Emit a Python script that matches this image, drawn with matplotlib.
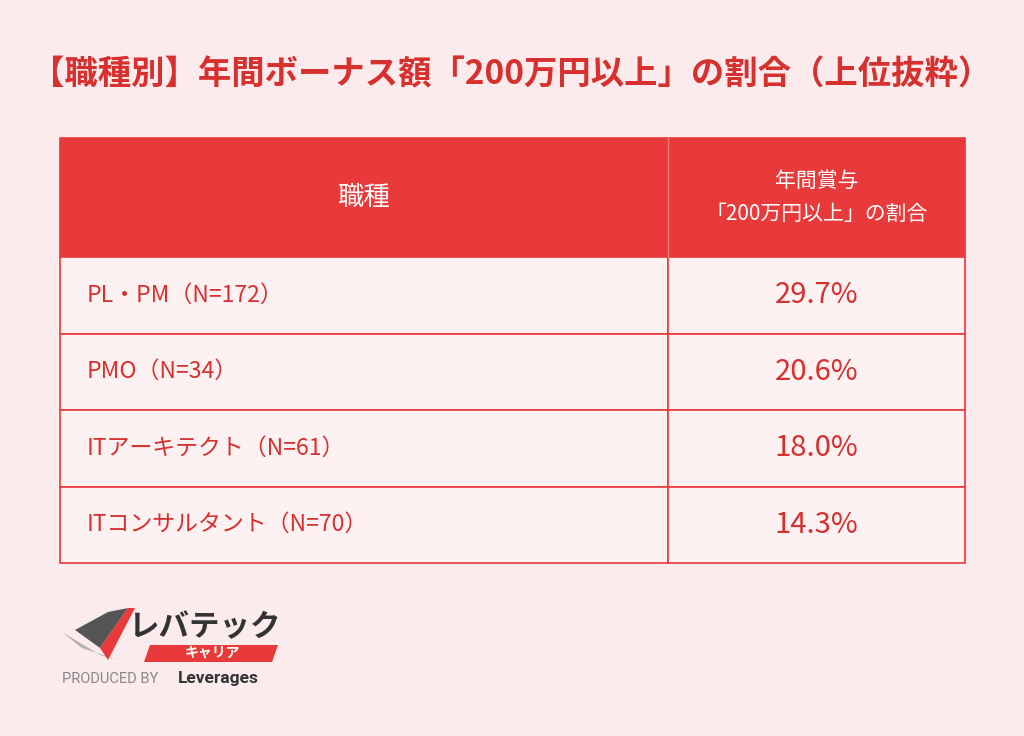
import matplotlib
matplotlib.use("Agg")
import matplotlib.pyplot as plt
from matplotlib.patches import Rectangle, Polygon

title = "【職種別】年間ボーナス額「200万円以上」の割合（上位抜粋）"
col_headers = ["職種", "年間賞与\n「200万円以上」の割合"]
categories = ["PL・PM（N=172）", "PMO（N=34）", "ITアーキテクト（N=61）", "ITコンサルタント（N=70）"]
values = [29.7, 20.6, 18.0, 14.3]

FONT = "Noto Sans CJK JP"
BG = "#FBEBEC"
RED = "#E83A3A"
TXT = "#D6302F"

fig = plt.figure(figsize=(10.24, 7.36), dpi=100, facecolor=BG)
ax = fig.add_axes([0, 0, 1, 1])
ax.set_xlim(0, 1024); ax.set_ylim(736, 0); ax.axis("off")
ax.set_facecolor(BG)

ax.text(511, 75, title, ha="center", va="center", fontsize=24, fontweight="bold",
        color=TXT, family=FONT)

x0, x1, xs = 60, 965, 668
hy0, hy1 = 138, 257
rh = 76.5
ax.add_patch(Rectangle((x0, hy0), x1 - x0, hy1 - hy0, fc=RED, ec=RED, lw=1.2))
ax.plot([xs, xs], [hy0, hy1], color="#F27A7A", lw=1)
ax.text((x0 + xs) / 2, (hy0 + hy1) / 2, col_headers[0], ha="center", va="center",
        fontsize=19, color="white", family=FONT)
ax.text((xs + x1) / 2, (hy0 + hy1) / 2, col_headers[1], ha="center", va="center",
        fontsize=15, color="white", family=FONT, linespacing=1.7)

for i, (c, v) in enumerate(zip(categories, values)):
    y = hy1 + i * rh
    ax.add_patch(Rectangle((x0, y), xs - x0, rh, fc="#FDF1F2", ec=RED, lw=1.2))
    ax.add_patch(Rectangle((xs, y), x1 - xs, rh, fc="#FDF1F2", ec=RED, lw=1.2))
    ax.text(87, y + rh / 2, c, ha="left", va="center", fontsize=16.5, color=TXT, family=FONT)
    ax.text((xs + x1) / 2, y + rh / 2, f"{v:.1f}%", ha="center", va="center",
            fontsize=21, color=TXT, family=FONT)

# logo
ax.add_patch(Polygon([(62, 632), (100, 655), (118, 660), (82, 648)], fc="#B0B0B0", ec="none"))
ax.add_patch(Polygon([(75, 630), (100, 648), (128, 608), (108, 612)], fc="#555555", ec="none"))
ax.add_patch(Polygon([(100, 648), (128, 608), (135, 608), (108, 660)], fc=RED, ec="none"))
ax.text(128, 627, "レバテック", ha="left", va="center", fontsize=22, fontweight="bold",
        color="#333333", family=FONT, style="italic")
ax.add_patch(Polygon([(150, 645), (278, 645), (272, 662), (144, 662)], fc=RED, ec="none"))
ax.text(212, 653, "キャリア", ha="center", va="center", fontsize=10, fontweight="bold",
        color="white", family=FONT)
ax.text(62, 679, "PRODUCED BY", ha="left", va="center", fontsize=10.5, color="#888888",
        family="Roboto")
ax.text(178, 679, "Leverages", ha="left", va="center", fontsize=12.5, fontweight="bold",
        color="#333333", family="Roboto")

fig.savefig("out.png", dpi=100, facecolor=BG)
